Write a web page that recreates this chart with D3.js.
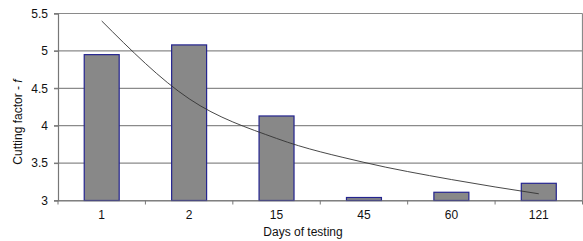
<!DOCTYPE html>
<html>
<head>
<meta charset="utf-8">
<script src="https://cdn.jsdelivr.net/npm/d3@7"></script>
<style>
  body { margin: 0; background: #fff; }
  svg { display: block; font-family: "Liberation Sans", Arial, sans-serif; }
</style>
</head>
<body>
<svg id="chart"></svg>
<script>
// days on the x axis (category labels)
var days = ["1", "2", "15", "45", "60", "121"];
// measured cutting factor f
var cutting = [4.95, 5.08, 4.13, 3.04, 3.11, 3.23];
// trendline values read at each category
var trend = [5.40, 4.36, 3.83, 3.51, 3.28, 3.09];
var yTicks = [3, 3.5, 4, 4.5, 5, 5.5];

var width = 583, height = 241;
var plot = {left: 58, right: 582.5, top: 13.5, bottom: 200.5};

var svg = d3.select("#chart").attr("width", width).attr("height", height);

var x = d3.scaleBand().domain(days).range([plot.left, plot.right]).paddingInner(0).paddingOuter(0);
var y = d3.scaleLinear().domain([3, 5.5]).range([plot.bottom, plot.top]);

// gridlines
svg.append("g")
  .selectAll("line")
  .data(yTicks)
  .enter()
  .append("line")
  .attr("x1", plot.left - 4)
  .attr("x2", plot.right)
  .attr("y1", function (d) { return y(d); })
  .attr("y2", function (d) { return y(d); })
  .attr("stroke", "#8a8a8a")
  .attr("stroke-width", 1.2);

// right border
svg.append("line")
  .attr("x1", plot.right).attr("x2", plot.right)
  .attr("y1", plot.top).attr("y2", plot.bottom)
  .attr("stroke", "#8a8a8a").attr("stroke-width", 1.2);

// y axis
var yAxis = svg.append("g")
  .attr("transform", "translate(" + plot.left + ",0)")
  .call(d3.axisLeft(y).tickValues(yTicks).tickSize(4).tickPadding(6)
    .tickFormat(function (d) { return String(d); }));
yAxis.select(".domain").attr("stroke", "#777").attr("stroke-width", 1.2);
yAxis.selectAll(".tick line").attr("stroke", "#777");
yAxis.selectAll("text").attr("font-size", 12).attr("fill", "#111")
  .attr("font-family", "Liberation Sans, Arial, sans-serif");

// bars
var bw = x.bandwidth() * 0.4;
svg.append("g")
  .selectAll("rect")
  .data(cutting)
  .enter()
  .append("rect")
  .attr("x", function (d, i) { return x(days[i]) + x.bandwidth() / 2 - bw / 2; })
  .attr("y", function (d) { return y(d); })
  .attr("width", bw)
  .attr("height", function (d) { return y(3) - y(d); })
  .attr("fill", "#888888")
  .attr("stroke", "#24248f")
  .attr("stroke-width", 1.2);

// x axis
var xAxis = svg.append("g")
  .attr("transform", "translate(0," + plot.bottom + ")")
  .call(d3.axisBottom(x).tickSize(0).tickPadding(10));
xAxis.select(".domain").attr("stroke", "#777").attr("stroke-width", 1.2);
xAxis.selectAll("text").attr("font-size", 12).attr("fill", "#111")
  .attr("font-family", "Liberation Sans, Arial, sans-serif");

// small ticks between categories
var bounds = days.map(function (d) { return x(d); }).concat([plot.right]);
svg.append("g")
  .selectAll("line")
  .data(bounds)
  .enter()
  .append("line")
  .attr("x1", function (d) { return d; })
  .attr("x2", function (d) { return d; })
  .attr("y1", plot.bottom)
  .attr("y2", plot.bottom + 4)
  .attr("stroke", "#777");

// trendline
var line = d3.line()
  .x(function (d, i) { return x(days[i]) + x.bandwidth() / 2; })
  .y(function (d) { return y(d); })
  .curve(d3.curveMonotoneX);
svg.append("path")
  .datum(trend)
  .attr("d", line)
  .attr("fill", "none")
  .attr("stroke", "#333")
  .attr("stroke-width", 0.9);

// axis titles
svg.append("text")
  .attr("x", 303).attr("y", 236)
  .attr("text-anchor", "middle")
  .attr("font-size", 12).attr("fill", "#111")
  .text("Days of testing");

var yl = svg.append("text")
  .attr("transform", "translate(22,122) rotate(-90)")
  .attr("text-anchor", "middle")
  .attr("font-size", 12).attr("fill", "#111");
yl.append("tspan").text("Cutting factor - ");
yl.append("tspan").attr("font-style", "italic").text("f");
</script>
</body>
</html>
